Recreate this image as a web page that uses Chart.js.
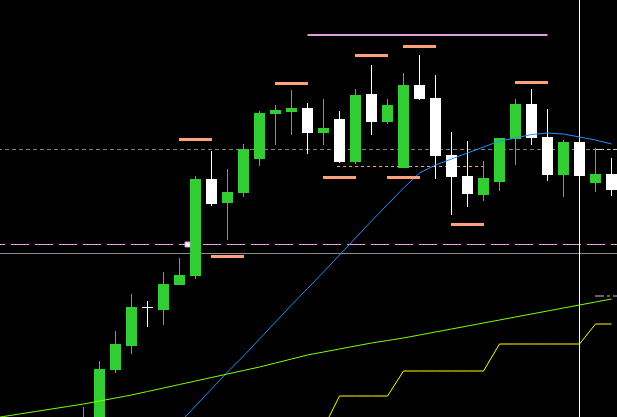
<!DOCTYPE html>
<html>
<head>
<meta charset="utf-8">
<style>
html, body { margin: 0; padding: 0; background: #000; }
#wrap { width: 617px; height: 417px; }
</style>
<script src="https://cdn.jsdelivr.net/npm/chart.js@4.4.1/dist/chart.umd.min.js"></script>
</head>
<body>
<div id="wrap"><canvas id="chart"></canvas></div>
<script>
// Candles (bar index of the first candle, then OHLC per bar)
const firstBar = 5;
const opens  = [555, 570, 630, 654, 692, 690, 715, 724, 821, 797, 807, 841, 886, 888, 892, 867, 881, 838, 906, 878, 832, 915, 902, 845, 824, 805, 818, 861, 896, 863, 825, 858, 817, 826];
const highs  = [593, 639, 669, 706, 699, 728, 742, 824, 849, 831, 856, 889, 895, 910, 897, 901, 889, 911, 935, 901, 927, 945, 925, 868, 859, 839, 862, 901, 911, 891, 860, 858, 852, 842];
const lows   = [550, 565, 627, 646, 673, 675, 715, 721, 794, 760, 803, 834, 855, 865, 846, 855, 837, 836, 865, 876, 832, 900, 821, 785, 793, 799, 809, 835, 855, 819, 803, 824, 808, 804];
const closes = [580, 631, 656, 693, 692, 716, 725, 821, 796, 808, 851, 887, 890, 892, 867, 872, 838, 905, 878, 895, 915, 901, 844, 823, 806, 822, 862, 896, 862, 825, 858, 824, 826, 810];

// Moving averages / step line (start bar + one value per bar)
const blueStart = 10;
const blueMA = [560, 577, 594, 611, 628, 644, 661, 678, 695, 711.5, 728, 745, 762, 779, 795.5, 812, 827, 835, 841, 847, 853, 859, 862, 865.5, 867, 866, 863, 860, 856];
const limeStart = -1;
const limeMA = [581, 583.5, 586, 588.5, 591, 593.5, 596, 599, 602, 605, 608.5, 612, 615.5, 619, 622.5, 626, 629.5, 633, 637, 641, 645, 648, 651, 654, 657, 659.5, 662, 665, 668, 671, 674, 677, 680, 683, 686, 689, 692, 695, 698, 701];
const yellowStart = 20;
const yellowStep = [572, 604, 604, 604, 604, 629, 629, 629, 629, 629, 629, 656, 656, 656, 656, 656, 656, 676, 676];

// Fractal markers
const fractalBars = [12, 14, 18, 21, 23, 25, 26, 29, 33];
const fractalPrices = [860.5, 743.5, 916.5, 822.5, 944.5, 822.5, 953.5, 775.5, 917.5];

// Horizontal levels
const grayDashLevel = 850.5;
const pinkDashLevel = 755.5;
const graySolidLevel = 746.5;
const topLevel = 965, topFrom = 19, topTo = 34;
const orangeLevel = 833.5, orangeFrom = 21, orangeTo = 30;
const tagLevels = [850.5, 704], tagFrom = 37;
const squareBar = 11.5, squarePrice = 755.5;
const cursorBar = 36;

const yMin = 583, yMax = 1000;
const xMin = -0.21875, xMax = 38.34375;

const green = '#32cd32';
const candleColors = opens.map((o, k) => closes[k] > o ? green : '#ffffff');

function series(start, values) {
    return values.map((v, k) => ({ x: start + k, y: v }));
}
function level(price, from, to, color, dash, width, order) {
    return {
        type: 'line',
        data: [{ x: from, y: price }, { x: to, y: price }],
        borderColor: color,
        borderWidth: width || 1,
        borderDash: dash || [],
        pointRadius: 0,
        order: order
    };
}

const datasets = [
    // candles
    {
        type: 'bar',
        data: lows.map((l, k) => ({ x: firstBar + k, y: [l, highs[k]] })),
        backgroundColor: candleColors,
        barThickness: 1,
        order: 5
    },
    {
        type: 'bar',
        data: opens.map((o, k) => ({ x: firstBar + k, y: [o, closes[k]] })),
        backgroundColor: candleColors,
        barThickness: 11,
        minBarLength: 1,
        order: 4
    },
    // vertical cursor line
    {
        type: 'bar',
        data: [{ x: cursorBar, y: [yMin, yMax] }],
        backgroundColor: '#ffffff',
        barThickness: 1,
        order: 3
    },
    // levels
    Object.assign(level(grayDashLevel, xMin, xMax, '#808080', [4, 3], 1, 8), { borderDashOffset: 2 }),
    Object.assign(level(pinkDashLevel, xMin, xMax, '#dda0dd', [18, 6], 1, 8), { borderDashOffset: 13 }),
    level(graySolidLevel, xMin, xMax, '#8c8c8c', [], 1, 8),
    level(topLevel, topFrom, topTo, '#dda0dd', [], 2, 8),
    level(orangeLevel, orangeFrom - 0.15, orangeTo + 0.15, '#ffa07a', [3, 3], 1, 7),
    level(tagLevels[0], tagFrom - 0.03, xMax, '#c8c8c8', [9, 3, 3, 3], 1, 7),
    level(tagLevels[1], tagFrom - 0.03, xMax, '#c8c8c8', [9, 3, 3, 3], 1, 7),
    // lines
    { type: 'line', data: series(limeStart, limeMA), borderColor: '#7fff00', borderWidth: 1, pointRadius: 0, order: 2 },
    { type: 'line', data: series(yellowStart, yellowStep), borderColor: '#ffff00', borderWidth: 1, pointRadius: 0, order: 2 },
    { type: 'line', data: series(blueStart, blueMA), borderColor: '#1e90ff', borderWidth: 1, pointRadius: 0, order: 2 },
    // fractal markers
    {
        type: 'line',
        showLine: false,
        data: fractalBars.map((b, k) => ({ x: b, y: fractalPrices[k] })),
        pointStyle: 'line',
        pointRadius: 16.5,
        pointBorderWidth: 3,
        pointBorderColor: '#ffa07a',
        order: 1
    },
    {
        type: 'line',
        showLine: false,
        data: [{ x: squareBar, y: squarePrice }],
        pointStyle: 'rect',
        pointRadius: 3.5,
        pointBorderWidth: 1,
        pointBackgroundColor: '#ffffff',
        pointBorderColor: '#dda0dd',
        order: 1
    }
];

new Chart(document.getElementById('chart'), {
    type: 'bar',
    data: { datasets: datasets },
    options: {
        responsive: true,
        maintainAspectRatio: false,
        animation: false,
        events: [],
        layout: { padding: 0, autoPadding: false },
        datasets: {
            bar: { grouped: false, inflateAmount: 0, borderWidth: 0 },
            line: { tension: 0, fill: false }
        },
        plugins: { legend: { display: false }, tooltip: { enabled: false } },
        scales: {
            x: { type: 'linear', display: false, offset: false, min: xMin, max: xMax },
            y: { type: 'linear', display: false, min: yMin, max: yMax }
        }
    }
});
</script>
</body>
</html>
